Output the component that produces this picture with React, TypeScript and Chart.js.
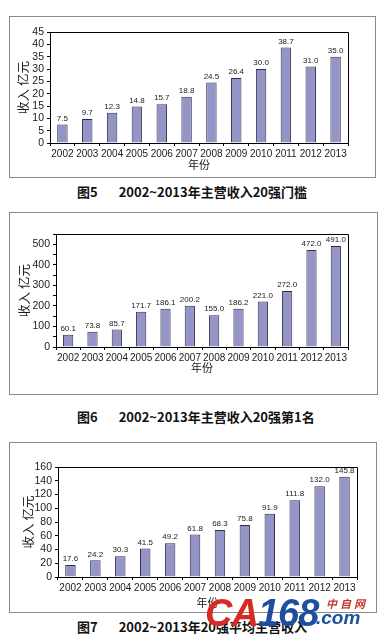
import React, { useEffect, useRef } from 'react';
import { Chart, registerables } from 'chart.js';

Chart.register(...registerables);

const years = ['2002', '2003', '2004', '2005', '2006', '2007', '2008', '2009', '2010', '2011', '2012', '2013'];
const thresholdValues = [7.5, 9.7, 12.3, 14.8, 15.7, 18.8, 24.5, 26.4, 30.0, 38.7, 31.0, 35.0];
const firstPlaceValues = [60.1, 73.8, 85.7, 171.7, 186.1, 200.2, 155.0, 186.2, 221.0, 272.0, 472.0, 491.0];
const averageValues = [17.6, 24.2, 30.3, 41.5, 49.2, 61.8, 68.3, 75.8, 91.9, 111.8, 132.0, 145.8];
const yTitle = '收入 亿元';
const xTitle = '年份';
const figureNumbers = ['图5', '图6', '图7'];
const captionTexts = ['2002~2013年主营收入20强门槛', '2002~2013年主营收入20强第1名', '2002~2013年20强平均主营收入'];
const yMax = [45, 550, 160];
const yStep = [5, 50, 20];
const yLabelEvery = [5, 100, 20];

const BAR_FILL = '#9494c6';
const BAR_EDGE = '#2e2e50';
const INK = '#1a1a1a';

type Layout = {
  box: { left: number; top: number; w: number; h: number };
  pad: { left: number; top: number; right: number; bottom: number };
  yWidth: number;
  xHeight: number;
  yTitleOffset: number;
  xTitleOffset: number;
  captionTop: number;
};

const layouts: Layout[] = [
  { box: { left: 9, top: 16, w: 367, h: 162 }, pad: { left: 0, top: 15, right: 27, bottom: 4 }, yWidth: 40, xHeight: 30, yTitleOffset: 27, xTitleOffset: 22, captionTop: 183 },
  { box: { left: 9, top: 212, w: 369, h: 183 }, pad: { left: 0, top: 21, right: 29, bottom: 17 }, yWidth: 46, xHeight: 30, yTitleOffset: 32, xTitleOffset: 21, captionTop: 408 },
  { box: { left: 9, top: 442, w: 368, h: 171 }, pad: { left: 0, top: 24, right: 19, bottom: 5 }, yWidth: 48, xHeight: 30, yTitleOffset: 30, xTitleOffset: 26, captionTop: 618 },
];

const seriesList = [thresholdValues, firstPlaceValues, averageValues];

const align = (p: number) => Math.round(p - 0.5) + 0.5;

function makePlugin(layout: Layout) {
  return {
    id: 'annot',
    afterDatasetsDraw(chart: any) {
      const { ctx } = chart;
      const meta = chart.getDatasetMeta(0);
      const data = chart.data.datasets[0].data as number[];
      ctx.save();
      ctx.fillStyle = INK;
      ctx.font = '8px "Liberation Sans", Arial, sans-serif';
      ctx.textAlign = 'center';
      ctx.textBaseline = 'bottom';
      meta.data.forEach((el: any, i: number) => {
        ctx.fillText(data[i].toFixed(1), el.x, el.y - 2);
      });
      ctx.restore();
    },
    afterDraw(chart: any) {
      const { ctx, chartArea: a } = chart;
      ctx.save();
      ctx.strokeStyle = '#000';
      ctx.lineWidth = 1;
      ctx.beginPath();
      ctx.moveTo(align(a.left), align(a.top));
      ctx.lineTo(align(a.right), align(a.top));
      ctx.lineTo(align(a.right), align(a.bottom));
      ctx.stroke();
      ctx.fillStyle = INK;
      ctx.font = '12.5px "Noto Sans CJK SC", sans-serif';
      ctx.textAlign = 'center';
      ctx.textBaseline = 'middle';
      ctx.save();
      ctx.translate(a.left - layout.yTitleOffset, (a.top + a.bottom) / 2);
      ctx.rotate(-Math.PI / 2);
      ctx.fillText(yTitle, 0, 0);
      ctx.restore();
      ctx.font = '11px "Noto Sans CJK SC", sans-serif';
      ctx.fillText(xTitle, (a.left + a.right) / 2, a.bottom + layout.xTitleOffset);
      ctx.restore();
    },
  };
}

function Panel({ idx }: { idx: number }) {
  const ref = useRef<HTMLCanvasElement>(null);
  const layout = layouts[idx];
  const cw = layout.box.w - 2;
  const ch = layout.box.h - 2;
  useEffect(() => {
    const chart = new Chart(ref.current as HTMLCanvasElement, {
      type: 'bar',
      data: {
        labels: years,
        datasets: [
          {
            data: seriesList[idx],
            backgroundColor: BAR_FILL,
            borderColor: BAR_EDGE,
            borderWidth: 1,
            barPercentage: 0.42,
            categoryPercentage: 1,
          },
        ],
      },
      options: {
        animation: false,
        responsive: false,
        maintainAspectRatio: false,
        layout: { padding: layout.pad },
        plugins: { legend: { display: false }, tooltip: { enabled: false }, title: { display: false } },
        scales: {
          x: {
            afterFit: (s: any) => { s.height = layout.xHeight; },
            grid: { offset: true, drawOnChartArea: false, drawTicks: true, tickLength: 3, color: '#000' },
            border: { color: '#000', width: 1 },
            ticks: {
              color: INK,
              font: { family: '"Liberation Sans", Arial, sans-serif', size: 10 },
              padding: 2,
              autoSkip: false,
              maxRotation: 0,
              minRotation: 0,
            },
          },
          y: {
            min: 0,
            max: yMax[idx],
            afterFit: (s: any) => { s.width = layout.yWidth; },
            grid: { drawOnChartArea: false, drawTicks: true, tickLength: 3, color: '#000' },
            border: { color: '#000', width: 1 },
            ticks: {
              stepSize: yStep[idx],
              autoSkip: false,
              color: INK,
              padding: 3,
              font: { family: '"Liberation Sans", Arial, sans-serif', size: 10.5 },
              callback: (v: any) => (Number(v) % yLabelEvery[idx] === 0 ? String(v) : ''),
            },
          },
        },
      },
      plugins: [makePlugin(layout)],
    } as any);
    return () => chart.destroy();
  }, []);
  return (
    <>
      <div
        style={{
          position: 'absolute',
          left: layout.box.left,
          top: layout.box.top,
          width: layout.box.w,
          height: layout.box.h,
          border: '1px solid #8a8a8a',
          boxSizing: 'border-box',
          background: '#fff',
        }}
      >
        <canvas ref={ref} width={cw} height={ch} style={{ display: 'block', width: cw, height: ch }} />
      </div>
      <div
        style={{
          position: 'absolute',
          left: 77,
          top: layout.captionTop,
          fontFamily: '"Noto Sans CJK SC", sans-serif',
          fontSize: 13,
          fontWeight: 700,
          lineHeight: '18px',
          color: '#111',
          whiteSpace: 'nowrap',
        }}
      >
        <span style={{ marginRight: 21 }}>{figureNumbers[idx]}</span>
        <span>{captionTexts[idx]}</span>
      </div>
    </>
  );
}

export default function App() {
  return (
    <div style={{ position: 'absolute', left: 0, top: 0, width: 384, height: 640, background: '#fff', overflow: 'hidden' }}>
      <Panel idx={0} />
      <Panel idx={1} />
      <Panel idx={2} />
      <div
        style={{
          position: 'absolute',
          left: 205,
          top: 591,
          fontFamily: '"Liberation Sans", Arial, sans-serif',
          fontWeight: 700,
          fontStyle: 'italic',
          fontSize: 38,
          lineHeight: '44px',
          whiteSpace: 'nowrap',
          letterSpacing: -1,
        }}
      >
        <span style={{ color: '#d62a22' }}>CA</span>
        <span style={{ color: '#1d4f9e' }}>168</span>
      </div>
      <div
        style={{
          position: 'absolute',
          left: 326,
          top: 596,
          fontFamily: '"Noto Sans CJK SC", sans-serif',
          fontWeight: 700,
          fontStyle: 'italic',
          fontSize: 11,
          lineHeight: '14px',
          letterSpacing: 3,
          color: '#c8372f',
          whiteSpace: 'nowrap',
        }}
      >
        中自网
      </div>
      <div
        style={{
          position: 'absolute',
          left: 316,
          top: 607,
          fontFamily: '"Liberation Sans", Arial, sans-serif',
          fontWeight: 700,
          fontStyle: 'italic',
          fontSize: 19,
          lineHeight: '22px',
          color: '#1d4f9e',
          whiteSpace: 'nowrap',
        }}
      >
        .com
      </div>
    </div>
  );
}
